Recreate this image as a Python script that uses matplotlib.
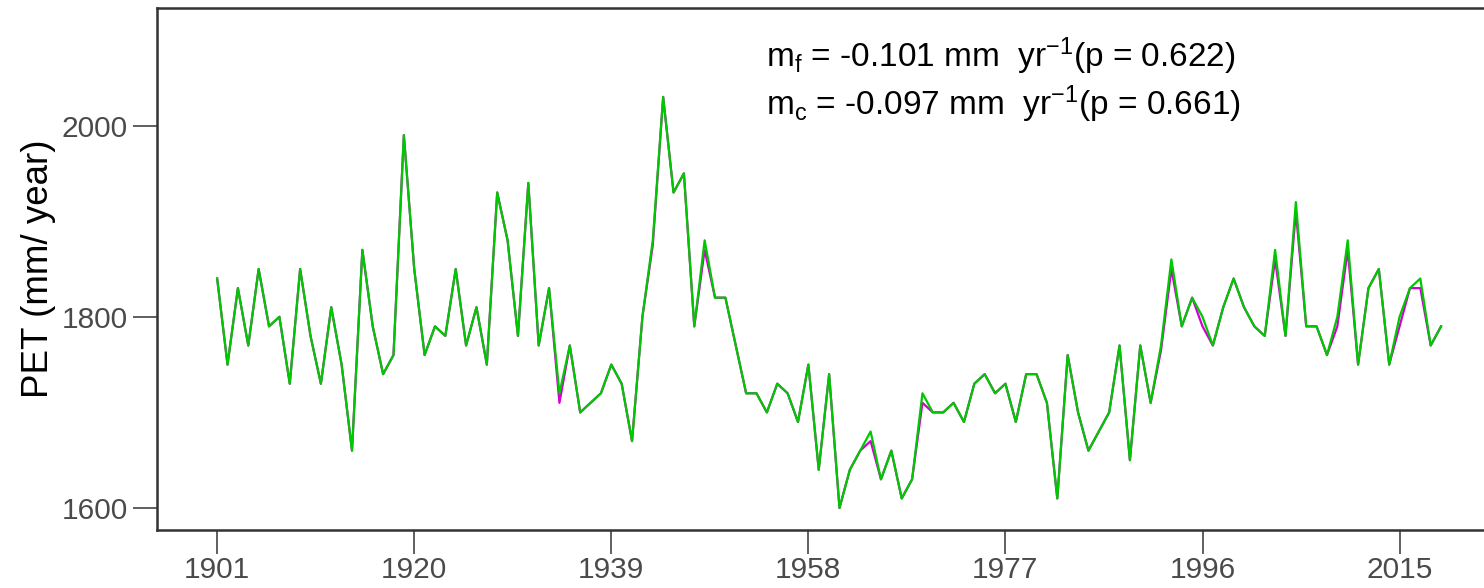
import matplotlib
matplotlib.use("Agg")
import matplotlib.pyplot as plt

plt.rcParams["font.family"] = ["Liberation Sans", "DejaVu Sans"]
plt.rcParams["mathtext.default"] = "regular"

# ------------------------------------------------------------
#  Datos (PET anual, 1901-2019)
# ------------------------------------------------------------
years = list(range(1901, 2020))

# serie verde
pet_green = [
    1840, 1750, 1830, 1770, 1850, 1790, 1800, 1730, 1850, 1780,  # 1901-1910
    1730, 1810, 1750, 1660, 1870, 1790, 1740, 1760, 1990, 1850,  # 1911-1920
    1760, 1790, 1780, 1850, 1770, 1810, 1750, 1930, 1880, 1780,  # 1921-1930
    1940, 1770, 1830, 1720, 1770, 1700, 1710, 1720, 1750, 1730,  # 1931-1940
    1670, 1800, 1880, 2030, 1930, 1950, 1790, 1880, 1820, 1820,  # 1941-1950
    1770, 1720, 1720, 1700, 1730, 1720, 1690, 1750, 1640, 1740,  # 1951-1960
    1600, 1640, 1660, 1680, 1630, 1660, 1610, 1630, 1720, 1700,  # 1961-1970
    1700, 1710, 1690, 1730, 1740, 1720, 1730, 1690, 1740, 1740,  # 1971-1980
    1710, 1610, 1760, 1700, 1660, 1680, 1700, 1770, 1650, 1770,  # 1981-1990
    1710, 1770, 1860, 1790, 1820, 1800, 1770, 1810, 1840, 1810,  # 1991-2000
    1790, 1780, 1870, 1780, 1920, 1790, 1790, 1760, 1800, 1880,  # 2001-2010
    1750, 1830, 1850, 1750, 1800, 1830, 1840, 1770, 1790,        # 2011-2019
]

# serie magenta (casi igual, algunas diferencias)
pet_magenta = [
    1840, 1750, 1830, 1770, 1850, 1790, 1800, 1730, 1850, 1780,
    1730, 1810, 1750, 1660, 1870, 1790, 1740, 1760, 1990, 1850,
    1760, 1790, 1780, 1850, 1770, 1810, 1750, 1930, 1880, 1780,
    1940, 1770, 1830, 1710, 1770, 1700, 1710, 1720, 1750, 1730,
    1670, 1800, 1875, 2030, 1930, 1950, 1790, 1870, 1820, 1820,
    1770, 1720, 1720, 1700, 1730, 1720, 1690, 1750, 1640, 1740,
    1600, 1640, 1660, 1670, 1630, 1660, 1610, 1630, 1710, 1700,
    1700, 1710, 1690, 1730, 1740, 1720, 1730, 1690, 1740, 1740,
    1710, 1610, 1760, 1700, 1660, 1680, 1700, 1770, 1650, 1770,
    1710, 1765, 1850, 1790, 1820, 1790, 1770, 1810, 1840, 1810,
    1790, 1780, 1860, 1780, 1910, 1790, 1790, 1760, 1790, 1870,
    1750, 1830, 1850, 1750, 1790, 1830, 1830, 1770, 1790,
]

xticks = [1901, 1920, 1939, 1958, 1977, 1996, 2015]
yticks = [1600, 1800, 2000]

label_f = r"m$_{f}$ = -0.101 mm  yr$^{-1}$(p = 0.622)"
label_c = r"m$_{c}$ = -0.097 mm  yr$^{-1}$(p = 0.661)"

# ------------------------------------------------------------
#  Figura
# ------------------------------------------------------------
fig = plt.figure(figsize=(14.84, 5.88), dpi=100)
ax = fig.add_axes([157 / 1484, 58 / 588, (1495 - 157) / 1484, 522 / 588])

ax.plot(years, pet_magenta, color="#d200d2", lw=1.6)
ax.plot(years, pet_green, color="#00c800", lw=1.6)

ax.set_xlim(1895.2, 2024.2)
ax.set_ylim(1577, 2123)
ax.set_xticks(xticks)
ax.set_yticks(yticks)

for side in ["left", "bottom", "top", "right"]:
    ax.spines[side].set_color("#333333")
    ax.spines[side].set_linewidth(1.8)

ax.tick_params(axis="both", length=17, width=1.2, color="#444444",
               labelcolor="#4a4a4a", labelsize=21.5)
ax.tick_params(axis="x", pad=2)
ax.tick_params(axis="y", pad=4)

ax.set_ylabel("PET (mm/ year)", fontsize=26.5, labelpad=4)

ax.text(0.4555, 0.908, label_f, transform=ax.transAxes, fontsize=24,
        ha="left", va="center")
ax.text(0.4555, 0.815, label_c, transform=ax.transAxes, fontsize=24,
        ha="left", va="center")

fig.savefig("out.png", dpi=100)
